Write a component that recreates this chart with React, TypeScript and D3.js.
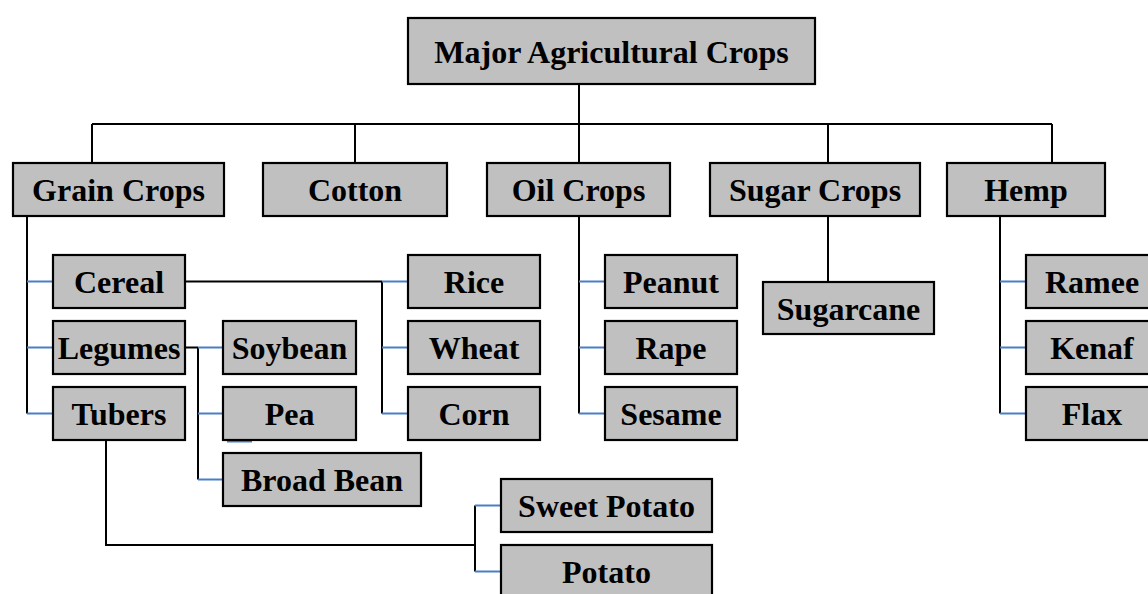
import React from "react";
import * as d3 from "d3";

// ---- data ----
const rootName = "Major Agricultural Crops";
const level1 = ["Grain Crops", "Cotton", "Oil Crops", "Sugar Crops", "Hemp"];
const grainChildren = ["Cereal", "Legumes", "Tubers"];
const cerealChildren = ["Rice", "Wheat", "Corn"];
const legumeChildren = ["Soybean", "Pea", "Broad Bean"];
const tuberChildren = ["Sweet Potato", "Potato"];
const oilChildren = ["Peanut", "Rape", "Sesame"];
const sugarChildren = ["Sugarcane"];
const hempChildren = ["Ramee", "Kenaf", "Flax"];

// ---- layout (positions, not data) ----
type Box = { x: number; y: number; w: number; h: number; ax?: number };
const layout: Record<string, Box> = {
  [rootName]: { x: 408, y: 18, w: 407, h: 66, ax: 579 },
  "Grain Crops": { x: 13, y: 163, w: 211, h: 53, ax: 92 },
  Cotton: { x: 263, y: 163, w: 184, h: 53, ax: 355 },
  "Oil Crops": { x: 487, y: 163, w: 183, h: 53, ax: 579 },
  "Sugar Crops": { x: 710, y: 163, w: 210, h: 53, ax: 828 },
  Hemp: { x: 947, y: 163, w: 158, h: 53, ax: 1052 },
  Cereal: { x: 53, y: 255, w: 132, h: 53 },
  Legumes: { x: 53, y: 321, w: 132, h: 53 },
  Tubers: { x: 53, y: 387, w: 132, h: 53, ax: 106 },
  Rice: { x: 408, y: 255, w: 132, h: 53 },
  Wheat: { x: 408, y: 321, w: 132, h: 53 },
  Corn: { x: 408, y: 387, w: 132, h: 53 },
  Soybean: { x: 223, y: 321, w: 133, h: 53 },
  Pea: { x: 223, y: 387, w: 133, h: 53 },
  "Broad Bean": { x: 223, y: 453, w: 198, h: 53 },
  Peanut: { x: 605, y: 255, w: 132, h: 53 },
  Rape: { x: 605, y: 321, w: 132, h: 53 },
  Sesame: { x: 605, y: 387, w: 132, h: 53 },
  Sugarcane: { x: 763, y: 282, w: 171, h: 52, ax: 828 },
  Ramee: { x: 1026, y: 255, w: 132, h: 53 },
  Kenaf: { x: 1026, y: 321, w: 132, h: 53 },
  Flax: { x: 1026, y: 387, w: 132, h: 53 },
  "Sweet Potato": { x: 501, y: 479, w: 211, h: 53 },
  Potato: { x: 501, y: 545, w: 211, h: 53 },
};

const BLACK = "#000";
const BLUE = "#4a7ec4";
const FILL = "#c0c0c0";

const midY = (b: Box) => b.y + b.h / 2;

export default function App() {
  const black: string[] = [];
  const blue: string[] = [];
  const seg = (arr: string[], pts: [number, number][]) => {
    const p = d3.path();
    pts.forEach(([x, y], i) => (i === 0 ? p.moveTo(x, y) : p.lineTo(x, y)));
    arr.push(p.toString());
  };

  // root -> level1 bus
  const r = layout[rootName];
  const busY = 124;
  seg(black, [[r.ax!, r.y + r.h], [r.ax!, busY]]);
  const l1x = level1.map((n) => layout[n].ax!);
  seg(black, [[d3.min(l1x)!, busY], [d3.max(l1x)!, busY]]);
  level1.forEach((n) => seg(black, [[layout[n].ax!, busY], [layout[n].ax!, layout[n].y]]));

  // spines: vertical black line from `top` to the last child, blue ticks to each child
  const spine = (kids: string[], spineX: number, top: number) => {
    const ys = kids.map((k) => midY(layout[k]));
    seg(black, [[spineX, Math.min(top, d3.min(ys)!)], [spineX, d3.max(ys)!]]);
    kids.forEach((k) => seg(blue, [[spineX, midY(layout[k])], [layout[k].x, midY(layout[k])]]));
  };
  const g = layout["Grain Crops"];
  spine(grainChildren, 27, g.y + g.h);
  const o = layout["Oil Crops"];
  spine(oilChildren, o.ax!, o.y + o.h);
  const h = layout["Hemp"];
  spine(hempChildren, 1000, h.y + h.h);
  const c = layout["Cereal"];
  seg(black, [[c.x + c.w, midY(c)], [382, midY(c)]]);
  spine(cerealChildren, 382, midY(c));
  const lg = layout["Legumes"];
  seg(black, [[lg.x + lg.w, midY(lg)], [198, midY(lg)]]);
  spine(legumeChildren, 198, midY(lg));
  const t = layout["Tubers"];
  const tBusY = layout["Potato"].y;
  seg(black, [[t.ax!, t.y + t.h], [t.ax!, tBusY], [475, tBusY]]);
  spine(tuberChildren, 475, 9999);
  // sugar: straight drop
  const s = layout["Sugar Crops"];
  sugarChildren.forEach((k) => seg(black, [[s.ax!, s.y + s.h], [s.ax!, layout[k].y]]));
  // small stray blue stroke under Pea
  const pea = layout["Pea"];
  seg(blue, [[pea.x + 4, pea.y + pea.h + 1.5], [pea.x + 29, pea.y + pea.h + 1.5]]);

  const names = Object.keys(layout);

  return (
    <div style={{ position: "fixed", left: 0, top: 0 }}>
      <svg width={1148} height={594} style={{ display: "block", background: "#fff" }}>
        {black.map((d, i) => (
          <path key={"k" + i} d={d} fill="none" stroke={BLACK} strokeWidth={2} />
        ))}
        {blue.map((d, i) => (
          <path key={"b" + i} d={d} fill="none" stroke={BLUE} strokeWidth={2} />
        ))}
        {names.map((n) => {
          const b = layout[n];
          return (
            <g key={n}>
              <rect x={b.x} y={b.y} width={b.w} height={b.h} fill={FILL} stroke={BLACK} strokeWidth={2.2} />
              <text
                x={b.x + b.w / 2}
                y={midY(b) + 11.5}
                textAnchor="middle"
                fontFamily="'Liberation Serif', 'Times New Roman', serif"
                fontWeight="bold"
                fontSize={32}
                fill="#000"
              >
                {n}
              </text>
            </g>
          );
        })}
      </svg>
    </div>
  );
}
